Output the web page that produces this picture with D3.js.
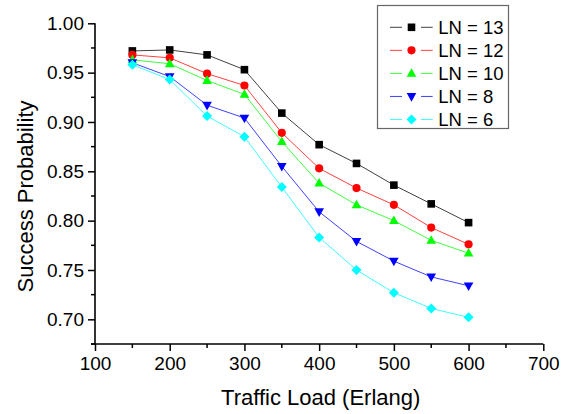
<!DOCTYPE html>
<html>
<head>
<meta charset="utf-8">
<script src="https://cdn.jsdelivr.net/npm/d3@7/dist/d3.min.js"></script>
<style>
  html, body { margin: 0; padding: 0; background: #fff; }
  svg { display: block; font-family: "Liberation Sans", Arial, sans-serif; }
</style>
</head>
<body>
<svg id="chart" width="571" height="414"></svg>
<script>
// Traffic load (Erlang) on the x axis
const loads = [150, 200, 250, 300, 350, 400, 450, 500, 550, 600];

// Success probability for each LN setting
const ln13 = [0.972, 0.973, 0.968, 0.953, 0.909, 0.877, 0.858, 0.836, 0.817, 0.798];
const ln12 = [0.968, 0.965, 0.949, 0.937, 0.889, 0.853, 0.833, 0.816, 0.793, 0.776];
const ln10 = [0.963, 0.959, 0.942, 0.928, 0.880, 0.838, 0.816, 0.800, 0.780, 0.767];
const ln8  = [0.960, 0.946, 0.917, 0.904, 0.855, 0.809, 0.779, 0.759, 0.743, 0.734];
const ln6  = [0.958, 0.943, 0.906, 0.885, 0.834, 0.783, 0.750, 0.727, 0.711, 0.702];

const seriesNames = ["LN = 13", "LN = 12", "LN = 10", "LN = 8", "LN = 6"];
const seriesValues = [ln13, ln12, ln10, ln8, ln6];
const seriesColors = ["#000000", "#ff0000", "#00ff00", "#0000ff", "#00ffff"];
const seriesSymbols = ["square", "circle", "triUp", "triDown", "diamond"];

const xTicks = [100, 200, 300, 400, 500, 600, 700];
const yTicks = [0.70, 0.75, 0.80, 0.85, 0.90, 0.95, 1.00];

const svg = d3.select("#chart");
const plotLeft = 95, plotRight = 543.3, plotTop = 23.3, plotBottom = 344;

const x = d3.scaleLinear().domain([100, 700]).range([plotLeft, plotRight]);
const y = d3.scaleLinear().domain([0.675, 1.0]).range([plotBottom, plotTop]);

// marker shapes drawn as paths around (0,0)
function markerPath(kind) {
  switch (kind) {
    case "square": return "M-3.8,-3.8H3.8V3.8H-3.8Z";
    case "circle": return d3.symbol(d3.symbolCircle, 52)();
    case "triUp": return "M0,-5.2L4.8,3.4H-4.8Z";
    case "triDown": return "M0,5.2L4.8,-3.4H-4.8Z";
    case "diamond": return "M0,-5L5,0L0,5L-5,0Z";
  }
}

const axisColor = "#000";

// minor ticks
const g = svg.append("g");
d3.range(150, 700, 100).forEach(v => {
  g.append("line").attr("x1", x(v)).attr("x2", x(v))
    .attr("y1", plotBottom).attr("y2", plotBottom + 4)
    .attr("stroke", axisColor).attr("stroke-width", 1.5);
});
d3.range(0.675, 1.0, 0.05).forEach(v => {
  g.append("line").attr("x1", plotLeft - 4).attr("x2", plotLeft)
    .attr("y1", y(v)).attr("y2", y(v))
    .attr("stroke", axisColor).attr("stroke-width", 1.5);
});

// x axis
const xAxis = d3.axisBottom(x).tickValues(xTicks).tickSize(7).tickPadding(6)
  .tickFormat(d3.format("d"));
const gx = svg.append("g").attr("transform", `translate(0,${plotBottom})`).call(xAxis);
gx.select(".domain").attr("stroke", axisColor).attr("stroke-width", 1.6)
  .attr("d", `M${plotLeft - 4},0H${plotRight}`);
gx.selectAll(".tick line").attr("stroke", axisColor).attr("stroke-width", 1.5);
gx.selectAll(".tick text").attr("font-size", 19).attr("fill", "#000")
  .attr("font-family", "Liberation Sans, Arial, sans-serif");

// y axis
const yAxis = d3.axisLeft(y).tickValues(yTicks).tickSize(7).tickPadding(4)
  .tickFormat(d3.format(".2f"));
const gy = svg.append("g").attr("transform", `translate(${plotLeft},0)`).call(yAxis);
gy.select(".domain").attr("stroke", axisColor).attr("stroke-width", 1.6)
  .attr("d", `M0,${plotTop}V${plotBottom}`);
gy.selectAll(".tick line").attr("stroke", axisColor).attr("stroke-width", 1.5);
gy.selectAll(".tick text").attr("font-size", 19).attr("fill", "#000")
  .attr("font-family", "Liberation Sans, Arial, sans-serif");

// axis titles
svg.append("text").attr("x", 320.7).attr("y", 405)
  .attr("text-anchor", "middle").attr("font-size", 22).attr("fill", "#000")
  .text("Traffic Load (Erlang)");
svg.append("text")
  .attr("transform", "translate(32.5,196.5) rotate(-90)")
  .attr("text-anchor", "middle").attr("font-size", 22).attr("fill", "#000")
  .text("Success Probability");

// series: line then markers, later series on top
const line = d3.line().x((d, i) => x(loads[i])).y(d => y(d));
seriesValues.forEach((vals, s) => {
  const sg = svg.append("g");
  sg.append("path").datum(vals).attr("d", line)
    .attr("fill", "none").attr("stroke", seriesColors[s]).attr("stroke-width", 1)
    .attr("stroke-opacity", 0.75);
  sg.selectAll("path.m").data(vals).enter().append("path").attr("class", "m")
    .attr("d", markerPath(seriesSymbols[s]))
    .attr("transform", (d, i) => `translate(${x(loads[i])},${y(d)})`)
    .attr("fill", seriesColors[s]);
});

// legend
const lg = svg.append("g");
lg.append("rect").attr("x", 377.5).attr("y", 5.5).attr("width", 131).attr("height", 123)
  .attr("fill", "#fff").attr("stroke", "#666").attr("stroke-width", 1.2);
const legendY = d3.scalePoint().domain(seriesNames).range([27.3, 119.5]);
seriesNames.forEach((name, s) => {
  const yy = legendY(name);
  lg.append("line").attr("x1", 390).attr("x2", 432.7).attr("y1", yy).attr("y2", yy)
    .attr("stroke", seriesColors[s]).attr("stroke-width", 1).attr("stroke-opacity", 0.75);
  lg.append("rect").attr("x", 402).attr("y", yy - 6).attr("width", 19).attr("height", 12)
    .attr("fill", "#fff");
  lg.append("path").attr("d", markerPath(seriesSymbols[s]))
    .attr("transform", `translate(411.5,${yy})`).attr("fill", seriesColors[s]);
  lg.append("text").attr("x", 438.3).attr("y", yy).attr("dy", "0.35em")
    .attr("font-size", 18.5).attr("fill", "#000").text(name);
});
</script>
</body>
</html>
